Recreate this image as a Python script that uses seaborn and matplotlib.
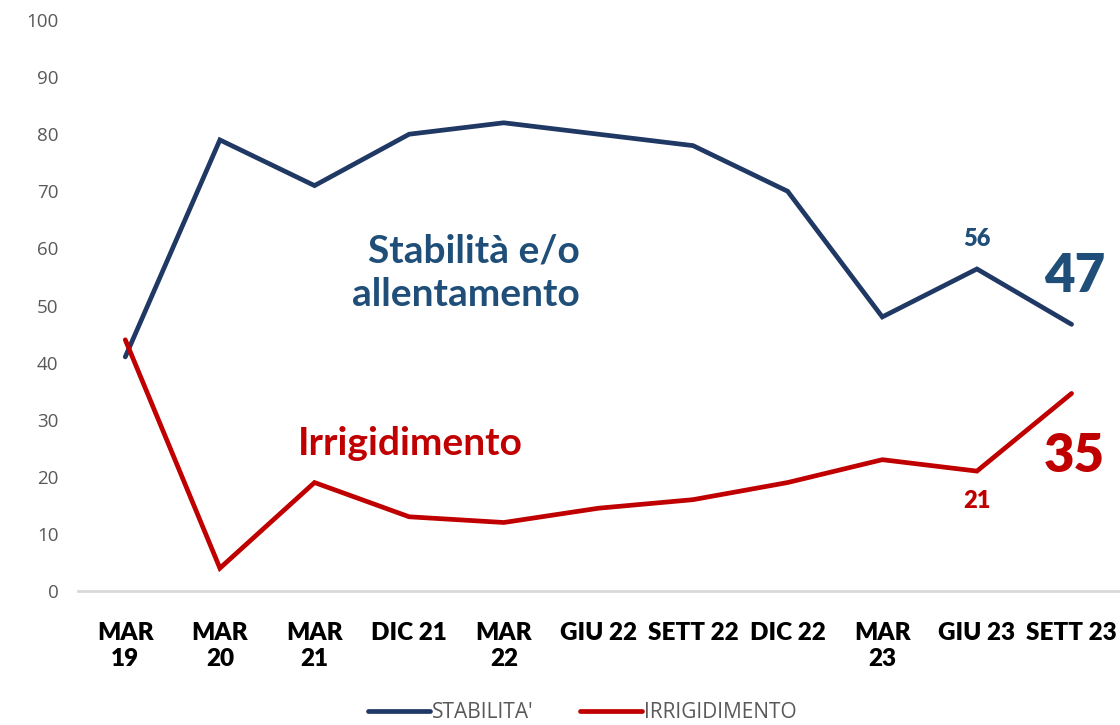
import pandas as pd
import matplotlib.pyplot as plt
import seaborn as sns
import numpy as np

periodi = ['MAR\n19', 'MAR\n20', 'MAR\n21', 'DIC 21', 'MAR\n22', 'GIU 22',
           'SETT 22', 'DIC 22', 'MAR\n23', 'GIU 23', 'SETT 23']
stabilita = [41, 79, 71, 80, 82, 80, 78, 70, 48, 56.4, 46.7]
irrigidimento = [44, 4, 19, 13, 12, 14.5, 16, 19, 23, 21, 34.6]
y_ticks = list(range(0, 101, 10))

BLU = '#1F3864'
BLU_TXT = '#1F4E79'
ROSSO = '#C00000'

df = pd.DataFrame({
    'x': list(range(len(periodi))) * 2,
    'valore': stabilita + irrigidimento,
    'serie': ["STABILITA'"] * len(periodi) + ['IRRIGIDIMENTO'] * len(periodi),
})

sns.set_style('white')
plt.rcParams['font.family'] = ['Lato', 'DejaVu Sans']

fig = plt.figure(figsize=(11.2, 7.25), dpi=100)
ax = fig.add_axes([0.0696, 0.1848, 0.9294, 0.7876])

sns.lineplot(data=df, x='x', y='valore', hue='serie',
             palette={"STABILITA'": BLU, 'IRRIGIDIMENTO': ROSSO},
             linewidth=3.4, ax=ax, legend=False,
             solid_capstyle='round', solid_joinstyle='miter')

ax.set_xlim(-0.5, len(periodi) - 0.5)
ax.set_ylim(0, 100)
ax.set_yticks(y_ticks)
ax.set_yticklabels([str(t) for t in y_ticks], fontsize=13.5, color='#595959',
                   family=['Open Sans', 'DejaVu Sans'])
ax.set_xticks(range(len(periodi)))
ax.set_xticklabels(periodi, fontsize=17.5, fontweight='heavy', color='black',
                   va='top', linespacing=1.25)
ax.tick_params(axis='x', length=0, pad=22)
ax.tick_params(axis='y', length=0, pad=14)
ax.set_xlabel('')
ax.set_ylabel('')
for s in ['top', 'right', 'left']:
    ax.spines[s].set_visible(False)
ax.spines['bottom'].set_color('#D9D9D9')
ax.spines['bottom'].set_linewidth(2)
ax.grid(False)

# etichette dentro il grafico
ax.text(4.8, 55.8, 'Stabilità e/o\nallentamento', ha='right', va='center',
        fontsize=28, fontweight='bold', color=BLU_TXT, linespacing=1.3)
ax.text(1.82, 25.8, 'Irrigidimento', ha='left', va='center',
        fontsize=28, fontweight='bold', color=ROSSO)

ax.text(9, stabilita[9] + 5.2, '56', ha='center', va='center',
        fontsize=17, fontweight='heavy', color=BLU_TXT)
ax.text(9, irrigidimento[9] - 5.3, '21', ha='center', va='center',
        fontsize=17, fontweight='heavy', color=ROSSO)
ax.text(10.03, stabilita[10] + 8.3, '47', ha='center', va='center',
        fontsize=38, fontweight='heavy', color=BLU_TXT)
ax.text(10.03, irrigidimento[10] - 11, '35', ha='center', va='center',
        fontsize=38, fontweight='heavy', color=ROSSO)

handles = [plt.Line2D([], [], color=BLU, lw=3.4, solid_capstyle='round'),
           plt.Line2D([], [], color=ROSSO, lw=3.4, solid_capstyle='round')]
fig.legend(handles, ["STABILITA'", 'IRRIGIDIMENTO'], loc='center',
           bbox_to_anchor=(0.52, 0.017), ncol=2, frameon=False,
           labelcolor='#595959', handlelength=3,
           handletextpad=0.1, columnspacing=2.2,
           prop={'family': ['Open Sans', 'DejaVu Sans'], 'size': 15})

fig.savefig('out.png', dpi=100)
plt.close(fig)
